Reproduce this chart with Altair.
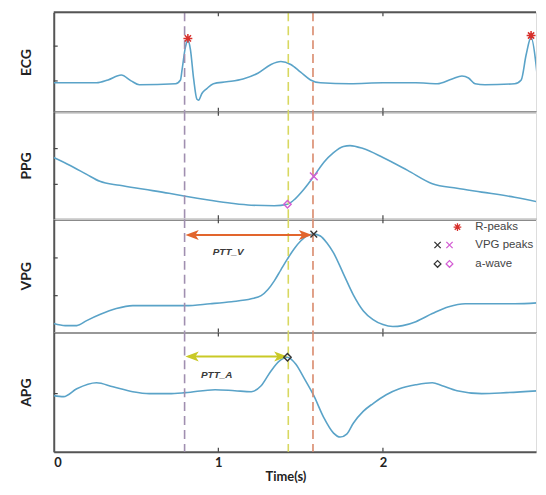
import altair as alt
import pandas as pd

# ---------------- data ----------------
ecg_t = [0.00, 0.26, 0.33, 0.41, 0.47, 0.52, 0.74, 0.77, 0.78, 0.80, 0.815, 0.83, 0.85, 0.87, 0.88,
         0.90, 0.93, 0.97, 1.05, 1.15, 1.24, 1.32, 1.38, 1.44, 1.50, 1.56, 1.62, 1.80, 2.00, 2.20,
         2.33, 2.42, 2.48, 2.52, 2.56, 2.62, 2.80, 2.84, 2.87, 2.90, 2.93, 2.95]
ecg_v = [0.291, 0.291, 0.320, 0.369, 0.311, 0.272, 0.282, 0.320, 0.427, 0.650, 0.718, 0.631, 0.330, 0.126, 0.117,
         0.184, 0.233, 0.282, 0.301, 0.330, 0.388, 0.476, 0.505, 0.476, 0.398, 0.320, 0.291, 0.282, 0.291, 0.291,
         0.282, 0.330, 0.359, 0.340, 0.282, 0.272, 0.282, 0.320, 0.573, 0.748, 0.476, 0.117]
rpeak_t = [0.815, 2.90]
rpeak_v = [0.738, 0.767]

ppg_t = [0.00, 0.10, 0.20, 0.28, 0.40, 0.55, 0.70, 0.80, 0.95, 1.08, 1.20, 1.34, 1.42, 1.47, 1.52,
         1.58, 1.64, 1.70, 1.76, 1.80, 1.88, 2.00, 2.15, 2.30, 2.45, 2.60, 2.80, 2.95]
ppg_v = [0.574, 0.500, 0.417, 0.352, 0.315, 0.278, 0.241, 0.213, 0.176, 0.148, 0.130, 0.125, 0.139, 0.194, 0.278,
         0.398, 0.528, 0.620, 0.676, 0.685, 0.657, 0.574, 0.454, 0.330, 0.287, 0.252, 0.204, 0.157]

vpg_t = [0.00, 0.07, 0.14, 0.20, 0.28, 0.38, 0.48, 0.65, 0.80, 0.95, 1.08, 1.20, 1.26, 1.30, 1.34,
         1.38, 1.42, 1.46, 1.50, 1.55, 1.58, 1.62, 1.66, 1.70, 1.76, 1.82, 1.88, 1.94, 2.00, 2.06,
         2.12, 2.20, 2.30, 2.40, 2.50, 2.60, 2.80, 2.95]
vpg_v = [0.079, 0.061, 0.061, 0.105, 0.158, 0.211, 0.237, 0.237, 0.237, 0.254, 0.272, 0.298, 0.325, 0.377, 0.456,
         0.553, 0.649, 0.737, 0.807, 0.860, 0.868, 0.851, 0.789, 0.702, 0.518, 0.333, 0.193, 0.114, 0.070, 0.053,
         0.061, 0.096, 0.167, 0.228, 0.254, 0.254, 0.254, 0.263]

apg_t = [0.00, 0.06, 0.14, 0.26, 0.36, 0.48, 0.58, 0.70, 0.80, 0.98, 1.10, 1.20, 1.26, 1.32, 1.37,
         1.42, 1.47, 1.52, 1.58, 1.64, 1.70, 1.74, 1.78, 1.82, 1.88, 1.94, 2.02, 2.10, 2.20, 2.30,
         2.36, 2.45, 2.60, 2.75, 2.95]
apg_v = [0.471, 0.463, 0.529, 0.579, 0.545, 0.504, 0.488, 0.488, 0.496, 0.521, 0.512, 0.504, 0.554, 0.678, 0.760,
         0.793, 0.736, 0.620, 0.471, 0.289, 0.157, 0.124, 0.149, 0.240, 0.339, 0.405, 0.479, 0.529, 0.562, 0.579,
         0.554, 0.512, 0.488, 0.496, 0.512]

# feature points
vpg_peak_t = 1.58
ppg_at_vpg_peak = 0.398
vpg_peak_v = 0.868
awave_t = 1.42
ppg_at_awave = 0.139
apg_awave_v = 0.793

# vertical markers (R-peak, a-wave, VPG peak)
vline_t = [0.795, 1.425, 1.575]
vline_color = ["#a08fb0", "#d8d860", "#d98a6c"]

# PTT arrows
pttv_start, pttv_end, pttv_level = 0.80, 1.57, 0.86
ptta_start, ptta_end, ptta_level = 0.80, 1.42, 0.80
pttv_label = ("PTT_V", 1.06, 0.71)
ptta_label = ("PTT_A", 0.99, 0.64)

panel_names = ["ECG", "PPG", "VPG", "APG"]
panel_h = [100, 108, 114, 120]
ytick_vals = {"ECG": [0.31, 0.66], "PPG": [0.324, 0.657], "VPG": [0.325, 0.658], "APG": [0.488]}
xtick_vals = [1, 2]
xlabel_vals = [0, 1, 2]
legend_labels = ["R-peaks", "VPG peaks", "a-wave"]

# ---------------- styling ----------------
W = 485
X_MAX = 2.93
LINE = "#5aa3c8"
RED = "#d7302c"
MAG = "#d45ed4"
DARK = "#333333"
ORANGE = "#e2652d"
YELLOW = "#c9c926"
FRAME = "#555555"
FONT = "Lato"
STAR = "M0,-1L0,1M-1,0L1,0M-0.7,-0.7L0.7,0.7M-0.7,0.7L0.7,-0.7"
XSH = "M-1,-1L1,1M-1,1L1,-1"
HEAD_L = "M0,0L2,-0.75L1.5,0L2,0.75Z"
HEAD_R = "M0,0L-2,-0.75L-1.5,0L-2,0.75Z"

xs = alt.Scale(domain=[0, X_MAX], nice=False, zero=False)
ys = alt.Scale(domain=[0, 1], nice=False, zero=False)


def make_enc(name, bottom):
    if bottom:
        xax = alt.Axis(values=xlabel_vals, format="d", ticks=False, domain=True, domainColor=FRAME,
                       domainWidth=2, grid=False,
                       labelFont=FONT, labelFontSize=13, labelFontWeight="bold", labelColor="#222",
                       labelPadding=5, title="Time(s)", titleFont=FONT, titleFontSize=13,
                       titleFontWeight="bold", titleColor="#222", titlePadding=1,
                       titleX=233, titleAlign="center")
    else:
        xax = alt.Axis(labels=False, ticks=False, domain=True, domainColor=FRAME, domainWidth=2,
                       grid=False, title=None)
    yax = alt.Axis(title=name, labels=False, ticks=False, domain=True, domainColor=FRAME,
                   domainWidth=2, grid=False,
                   titleFont=FONT, titleFontSize=14, titleFontWeight="bold", titleColor="#222",
                   titlePadding=20)

    def X(f="t"):
        return alt.X(f + ":Q", scale=xs, axis=xax, title="Time(s)" if bottom else None)

    def Y(f="v"):
        return alt.Y(f + ":Q", scale=ys, axis=yax, title=name)
    return X, Y


def pts(t, v):
    return pd.DataFrame({"t": t, "v": v})


def marker(X, Y, t, v, shape, color, size, sw=1.4):
    return alt.Chart(pts(t, v)).mark_point(shape=shape, filled=False, color=color, size=size,
                                           strokeWidth=sw, opacity=1, clip=True).encode(x=X(), y=Y())


def arrow(X, Y, a, b, lev, color):
    shaft = alt.Chart(pts([a + 0.02, b - 0.02], [lev, lev])).mark_line(color=color, strokeWidth=2).encode(
        x=X(), y=Y())
    hl = alt.Chart(pts([a], [lev])).mark_point(shape=HEAD_L, filled=True, color=color, size=180,
                                               opacity=1).encode(x=X(), y=Y())
    hr = alt.Chart(pts([b], [lev])).mark_point(shape=HEAD_R, filled=True, color=color, size=180,
                                               opacity=1).encode(x=X(), y=Y())
    return [shaft, hl, hr]


def label(X, Y, txt, t, v):
    return alt.Chart(pd.DataFrame({"t": [t], "v": [v], "s": [txt]})).mark_text(
        font="Liberation Sans", fontSize=10, fontStyle="italic", fontWeight="bold", color="#3a3a3a").encode(
        x=X(), y=Y(), text="s:N")


def leg_marker(px, py, shape, color, size):
    return alt.Chart(pd.DataFrame({"k": [0]})).mark_point(shape=shape, filled=False, color=color, size=size,
                                                          strokeWidth=1.3, opacity=1).encode(
        x=alt.value(px), y=alt.value(py))


def leg_text(i, py):
    return alt.Chart(pd.DataFrame({"s": [legend_labels[i]]})).mark_text(
        font="Liberation Sans", fontSize=11.5, align="left", baseline="middle", color="#444", clip=True).encode(
        x=alt.value(424), y=alt.value(py), text="s:N")


def panel(i, t, v, extra_fn, bottom=False):
    name = panel_names[i]
    h = panel_h[i]
    X, Y = make_enc(name, bottom)
    line = alt.Chart(pts(t, v)).mark_line(color=LINE, strokeWidth=1.6, clip=True,
                                          interpolate="monotone").encode(x=X(), y=Y())
    vl = alt.Chart(pd.DataFrame({"t": vline_t, "c": vline_color})).mark_rule(
        strokeDash=[9, 5], strokeWidth=1.6).encode(x=X(), color=alt.Color("c:N", scale=None))
    xt = pd.DataFrame({"t": xtick_vals})
    xtick_top = alt.Chart(xt).mark_rule(color="#444", strokeWidth=1.2).encode(
        x=X(), y=alt.value(0), y2=alt.value(4))
    xtick_bot = alt.Chart(xt).mark_rule(color="#444", strokeWidth=1.2).encode(
        x=X(), y=alt.value(h), y2=alt.value(h - 4))
    ytk = alt.Chart(pd.DataFrame({"v": ytick_vals[name]})).mark_rule(color="#444", strokeWidth=1.2).encode(
        y=Y(), x=alt.value(0), x2=alt.value(4))
    layers = [line, vl, xtick_top, xtick_bot, ytk] + extra_fn(X, Y)
    if i == 0:
        top = alt.Chart(pd.DataFrame({"k": [0]})).mark_rule(color=FRAME, strokeWidth=2).encode(
            x=alt.value(0), x2=alt.value(W), y=alt.value(0))
        layers.append(top)
    return alt.layer(*layers).properties(width=W, height=h)


legend = [
    leg_marker(406, 8, STAR, RED, 60), leg_text(0, 8),
    leg_marker(386, 26, XSH, DARK, 40), leg_marker(398, 26, XSH, MAG, 40), leg_text(1, 26),
    leg_marker(386, 45, "diamond", DARK, 45), leg_marker(398, 45, "diamond", MAG, 45), leg_text(2, 45),
]

ecg_p = panel(0, ecg_t, ecg_v, lambda X, Y: [marker(X, Y, rpeak_t, rpeak_v, STAR, RED, 80, 1.5)])
ppg_p = panel(1, ppg_t, ppg_v, lambda X, Y: [marker(X, Y, [awave_t], [ppg_at_awave], "diamond", MAG, 55),
                                             marker(X, Y, [vpg_peak_t], [ppg_at_vpg_peak], XSH, MAG, 60)])
vpg_p = panel(2, vpg_t, vpg_v, lambda X, Y: arrow(X, Y, pttv_start, pttv_end, pttv_level, ORANGE)
              + [marker(X, Y, [vpg_peak_t], [vpg_peak_v], XSH, DARK, 45), label(X, Y, *pttv_label)] + legend)
apg_p = panel(3, apg_t, apg_v, lambda X, Y: arrow(X, Y, ptta_start, ptta_end, ptta_level, YELLOW)
              + [marker(X, Y, [awave_t], [apg_awave_v], "diamond", DARK, 55), label(X, Y, *ptta_label)],
              bottom=True)

chart = alt.vconcat(ecg_p, ppg_p, vpg_p, apg_p, spacing=0, bounds="flush").properties(
    padding={"left": 11, "top": 1, "right": 0, "bottom": 0}
).configure_view(strokeWidth=0).configure(background="white")

chart.save("out.html", embed_options={"renderer": "svg", "actions": False})
